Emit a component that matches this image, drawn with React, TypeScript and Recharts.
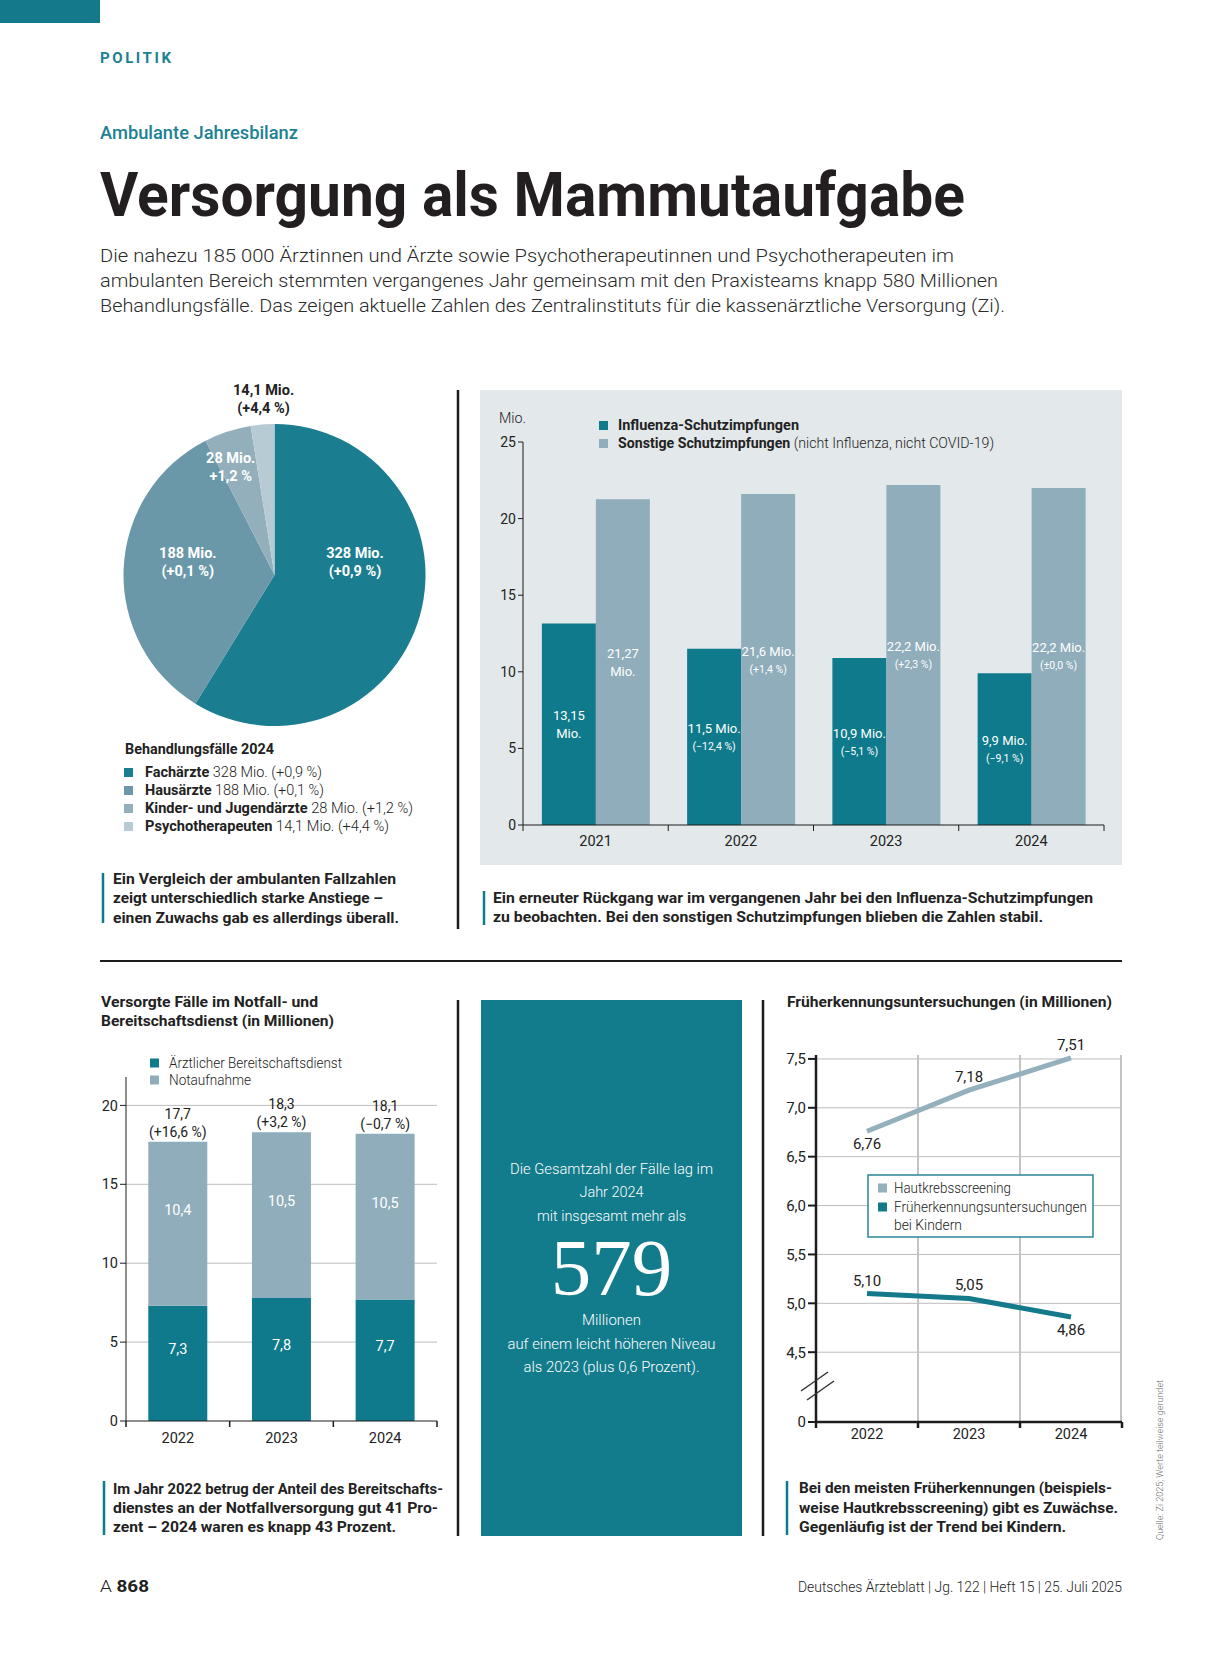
import React from "react";
import { Bar, BarChart, CartesianGrid, Cell, LabelList, Line, LineChart, Pie, PieChart, XAxis, YAxis } from "recharts";

const FONT = 'Roboto, "Noto Sans", sans-serif';
const SERIF = '"Liberation Serif", "DejaVu Serif", serif';
const INK = "#222222";
const TEAL = "#0f7a8b";
const LIGHT = "#8fadba";
const PANEL = "#e3e8ea";
const AXIS = "#1c1c1c";
const GRID = "#bdbdbd";
const W = 1223;
const H = 1654;

// Behandlungsfälle 2024
const pieNames = ["Fachärzte", "Hausärzte", "Kinder- und Jugendärzte", "Psychotherapeuten"];
const pieValues = [328, 188, 28, 14.1];
const pieLabelTop = ["328 Mio.", "188 Mio.", "28 Mio.", "14,1 Mio."];
const pieLabelSub = ["(+0,9 %)", "(+0,1 %)", "+1,2 %", "(+4,4 %)"];
const pieLegendText = ["328 Mio. (+0,9 %)", "188 Mio. (+0,1 %)", "28 Mio. (+1,2 %)", "14,1 Mio. (+4,4 %)"];
const pieColors = ["#1b7d90", "#6a98a8", "#93afbc", "#b7cbd4"];

// Schutzimpfungen
const vacYears = ["2021", "2022", "2023", "2024"];
const influenza = [13.15, 11.5, 10.9, 9.9];
const sonstige = [21.27, 21.6, 22.2, 22.0];
const influenzaTop = ["13,15", "11,5 Mio.", "10,9 Mio.", "9,9 Mio."];
const influenzaSub = ["Mio.", "(−12,4 %)", "(−5,1 %)", "(−9,1 %)"];
const sonstigeTop = ["21,27", "21,6 Mio.", "22,2 Mio.", "22,2 Mio."];
const sonstigeSub = ["Mio.", "(+1,4 %)", "(+2,3 %)", "(±0,0 %)"];
const vacTicks = [0, 5, 10, 15, 20, 25];

// Notfall- und Bereitschaftsdienst
const notYears = ["2022", "2023", "2024"];
const bereitschaft = [7.3, 7.8, 7.7];
const notaufnahme = [10.4, 10.5, 10.5];
const notTotal = ["17,7", "18,3", "18,1"];
const notChange = ["(+16,6 %)", "(+3,2 %)", "(−0,7 %)"];
const notTicks = [0, 5, 10, 15, 20];

// Früherkennungsuntersuchungen
const fruehYears = ["2022", "2023", "2024"];
const hautkrebs = [6.76, 7.18, 7.51];
const kinder = [5.1, 5.05, 4.86];
const fruehTicks = [4.5, 5, 5.5, 6, 6.5, 7, 7.5];
const FRUEH_FLOOR = 3.786; // axis break, shown as "0"

const pieData = pieNames.map((name, i) => ({ name, value: pieValues[i] }));
const vacData = vacYears.map((year, i) => ({ year, influenza: influenza[i], sonstige: sonstige[i] }));
const notData = notYears.map((year, i) => ({ year, bereitschaft: bereitschaft[i], notaufnahme: notaufnahme[i] }));
const fruehData = fruehYears.map((year, i) => ({ year, hautkrebs: hautkrebs[i], kinder: kinder[i] }));

const comma = (v: number, d: number) => v.toFixed(d).replace(".", ",");

// label placement tweaks (relative to slice mid angle)
const pieLabelTweak = [
  { da: 25, r: 0.54 },
  { da: -6, r: 0.58 },
  { da: 4, r: 0.77 },
  { da: -1, r: 1.17 },
];

function renderPieLabel(props: any) {
  const { cx, cy, midAngle, outerRadius, index } = props;
  const t = pieLabelTweak[index];
  const a = ((midAngle + t.da) * Math.PI) / 180;
  const x = cx + outerRadius * t.r * Math.cos(a);
  const y = cy - outerRadius * t.r * Math.sin(a);
  return (
    <text textAnchor="middle" fill={index === 3 ? INK : "#fff"} fontSize={14.5} fontWeight={700} fontFamily={FONT}>
      <tspan x={x} y={y - 4}>{pieLabelTop[index]}</tspan>
      <tspan x={x} y={y + 14}>{pieLabelSub[index]}</tspan>
    </text>
  );
}

function box(props: any) {
  const vb = props.viewBox && props.viewBox.x !== undefined ? props.viewBox : props;
  return { x: vb.x, y: vb.y, w: vb.width || 0, h: vb.height || 0, i: props.index ?? 0 };
}

const vacLabel = (top: string[], sub: string[]) => (props: any) => {
  const { x, y, w, h, i } = box(props);
  const cx = x + w / 2;
  const cy = y + h / 2;
  const same = sub[i] === "Mio.";
  return (
    <g>
      <text x={cx} y={cy - 4} textAnchor="middle" fill="#fff" fontSize={13} fontFamily={FONT}>{top[i]}</text>
      <text x={cx} y={cy + (same ? 14 : 13)} textAnchor="middle" fill="#fff" fontSize={same ? 13 : 10.5} fontFamily={FONT}>{sub[i]}</text>
    </g>
  );
};

const innerLabel = (values: number[]) => (props: any) => {
  const { x, y, w, h, i } = box(props);
  return (
    <text x={x + w / 2} y={y + h / 2 - 9} textAnchor="middle" fill="#fff" fontSize={14.5} fontFamily={FONT}>
      {comma(values[i], 1)}
    </text>
  );
};

const totalLabel = (props: any) => {
  const { x, y, w, i } = box(props);
  return (
    <g>
      <text x={x + w / 2} y={y - 23} textAnchor="middle" fill={INK} fontSize={14} fontFamily={FONT}>{notTotal[i]}</text>
      <text x={x + w / 2} y={y - 5} textAnchor="middle" fill={INK} fontSize={14} fontFamily={FONT}>{notChange[i]}</text>
    </g>
  );
};

const hautPlace = ["below", "above", "above"];
const kinderPlace = ["above", "above", "below"];
const pointLabel = (values: number[], place: string[]) => (props: any) => {
  const { x, y, i } = box(props);
  const dy = place[i] === "above" ? -8 : 18;
  return (
    <text x={x} y={y + dy} textAnchor="middle" fill={INK} fontSize={15} fontFamily={FONT}>
      {comma(values[i], 2)}
    </text>
  );
};

const bandTick = (band: number, count: number, width: number, dy: number) => (props: any) => {
  const { x, y, payload, index } = props;
  return (
    <g>
      <line x1={x - band / 2} x2={x - band / 2} y1={y} y2={y + 6} stroke={AXIS} strokeWidth={width} />
      {index === count - 1 && <line x1={x + band / 2} x2={x + band / 2} y1={y} y2={y + 6} stroke={AXIS} strokeWidth={width} />}
      <text x={x} y={y + dy} textAnchor="middle" fill={INK} fontSize={14.5} fontFamily={FONT}>{payload.value}</text>
    </g>
  );
};

const tickStyle = { fontSize: 14.5, fill: INK, fontFamily: FONT };

function T({ x, y, size = 15, weight = 400, fill = INK, len, anchor = "start", family = FONT, children }: any) {
  return (
    <text x={x} y={y} fontSize={size} fontWeight={weight} fill={fill} fontFamily={family} textAnchor={anchor}
      textLength={len} lengthAdjust={len ? "spacingAndGlyphs" : undefined}>
      {children}
    </text>
  );
}

const introLines = [
  "Die nahezu 185 000 Ärztinnen und Ärzte sowie Psychotherapeutinnen und Psychotherapeuten im",
  "ambulanten Bereich stemmten vergangenes Jahr gemeinsam mit den Praxisteams knapp 580 Millionen",
  "Behandlungsfälle. Das zeigen aktuelle Zahlen des Zentralinstituts für die kassenärztliche Versorgung (Zi).",
];
const introLen = [854, 898, 905];

export default function App() {
  return (
    <div style={{ position: "absolute", left: 0, top: 0, width: W, height: H, background: "#fff", overflow: "hidden", fontFamily: FONT }}>
      <div style={{ position: "absolute", left: 480, top: 390, width: 642, height: 475, background: PANEL }} />
      <div style={{ position: "absolute", left: 481, top: 1000, width: 261, height: 536, background: "#127b8c" }} />

      {/* Pie */}
      <div style={{ position: "absolute", left: 100, top: 360 }}>
        <PieChart width={340} height={380}>
          <Pie data={pieData} dataKey="value" nameKey="name" cx={169.5} cy={210} outerRadius={151} startAngle={90} endAngle={-270}
            stroke="none" label={renderPieLabel} labelLine={false} isAnimationActive={false}>
            {pieData.map((d, i) => <Cell key={d.name} fill={pieColors[i]} />)}
          </Pie>
        </PieChart>
      </div>

      {/* Schutzimpfungen */}
      <div style={{ position: "absolute", left: 480, top: 390 }}>
        <BarChart width={642} height={475} data={vacData} margin={{ top: 52, right: 18, left: 13, bottom: 10 }} barCategoryGap="13%" barGap={0}>
          <YAxis width={30} domain={[0, 25]} ticks={vacTicks} interval={0} axisLine={{ stroke: AXIS }} tickLine={{ stroke: AXIS }} tickSize={5} tick={{ ...tickStyle, fontSize: 14 }} />
          <XAxis dataKey="year" height={30} axisLine={{ stroke: AXIS }} tickLine={false} tickSize={0} tickMargin={0} interval={0} tick={bandTick(581 / 4, 4, 1, 21)} />
          <Bar dataKey="influenza" fill={TEAL} isAnimationActive={false}>
            <LabelList dataKey="influenza" content={vacLabel(influenzaTop, influenzaSub)} />
          </Bar>
          <Bar dataKey="sonstige" fill={LIGHT} isAnimationActive={false}>
            <LabelList dataKey="sonstige" content={vacLabel(sonstigeTop, sonstigeSub)} />
          </Bar>
        </BarChart>
      </div>

      {/* Notfall */}
      <div style={{ position: "absolute", left: 90, top: 1060 }}>
        <BarChart width={360} height={400} data={notData} margin={{ top: 17, right: 13, left: 6, bottom: 9 }} barCategoryGap="21.5%">
          <CartesianGrid vertical={false} stroke={GRID} horizontalValues={notTicks.slice(1)} />
          <YAxis width={30} domain={[0, 21.8]} ticks={notTicks} interval={0} axisLine={{ stroke: AXIS }} tickLine={{ stroke: AXIS }} tickSize={6} tick={tickStyle} />
          <XAxis dataKey="year" height={30} axisLine={{ stroke: AXIS }} tickLine={false} tickSize={0} tickMargin={0} interval={0} tick={bandTick(311 / 3, 3, 1.5, 22)} />
          <Bar dataKey="bereitschaft" stackId="a" fill={TEAL} isAnimationActive={false}>
            <LabelList dataKey="bereitschaft" content={innerLabel(bereitschaft)} />
          </Bar>
          <Bar dataKey="notaufnahme" stackId="a" fill={LIGHT} isAnimationActive={false}>
            <LabelList dataKey="notaufnahme" content={innerLabel(notaufnahme)} />
            <LabelList dataKey="notaufnahme" content={totalLabel} />
          </Bar>
        </BarChart>
      </div>

      {/* Früherkennung */}
      <div style={{ position: "absolute", left: 766, top: 1035 }}>
        <LineChart width={370} height={420} data={fruehData} margin={{ top: 20, right: 14, left: 14, bottom: 5 }}>
          <CartesianGrid vertical={false} stroke={GRID} horizontalValues={fruehTicks} />
          <CartesianGrid horizontal={false} stroke="#c4c4c4" strokeWidth={2}
            verticalCoordinatesGenerator={({ offset }: any) => [offset.left + offset.width / 3, offset.left + (2 * offset.width) / 3, offset.left + offset.width - 1]} />
          <YAxis width={36} domain={[FRUEH_FLOOR, 7.54]} ticks={[FRUEH_FLOOR, ...fruehTicks]} interval={0} allowDataOverflow
            axisLine={{ stroke: AXIS, strokeWidth: 2.5 }} tickLine={{ stroke: AXIS, strokeWidth: 2 }} tickSize={8} tick={{ ...tickStyle, fontSize: 15 }}
            tickFormatter={(v: number) => (v < 4 ? "0" : comma(v, 1))} />
          <XAxis dataKey="year" height={28} padding={{ left: 51, right: 51 }} axisLine={{ stroke: AXIS, strokeWidth: 2.5 }} tickLine={false} tickSize={0} tickMargin={0} interval={0}
            tick={bandTick(102, 3, 2.5, 17)} />
          <Line dataKey="hautkrebs" stroke="#93b0bc" strokeWidth={5} dot={false} isAnimationActive={false}>
            <LabelList dataKey="hautkrebs" content={pointLabel(hautkrebs, hautPlace)} />
          </Line>
          <Line dataKey="kinder" stroke="#13798b" strokeWidth={5} dot={false} isAnimationActive={false}>
            <LabelList dataKey="kinder" content={pointLabel(kinder, kinderPlace)} />
          </Line>
        </LineChart>
      </div>

      {/* text and rules */}
      <svg width={W} height={H} style={{ position: "absolute", left: 0, top: 0, pointerEvents: "none" }}>
        <rect x={0} y={0} width={100} height={23} fill="#13798b" />
        <text x={100} y={63} fontSize={15} fontWeight={700} fill="#1c8193" fontFamily={FONT} letterSpacing={3} textLength={74} lengthAdjust="spacing">POLITIK</text>
        <T x={100} y={139} size={19} weight={500} fill="#1c8193" len={198}>Ambulante Jahresbilanz</T>
        <T x={100} y={216} size={62} weight={700} fill="#231f20" len={865}>Versorgung als Mammutaufgabe</T>
        {introLines.map((t, i) => (
          <T key={i} x={100} y={262 + 25 * i} size={19} weight={300} fill="#2a2a2a" len={introLen[i]}>{t}</T>
        ))}

        {/* rules */}
        <line x1={458} x2={458} y1={390} y2={929} stroke={AXIS} strokeWidth={2.5} />
        <line x1={100} x2={1122} y1={961} y2={961} stroke={AXIS} strokeWidth={2} />
        <line x1={458} x2={458} y1={1000} y2={1536} stroke={AXIS} strokeWidth={2.5} />
        <line x1={763} x2={763} y1={1000} y2={1536} stroke={AXIS} strokeWidth={2.5} />
        <line x1={103} x2={103} y1={873} y2={923} stroke={TEAL} strokeWidth={2.5} />
        <line x1={484} x2={484} y1={891} y2={925} stroke={TEAL} strokeWidth={2.5} />
        <line x1={104} x2={104} y1={1481} y2={1535} stroke={TEAL} strokeWidth={2.5} />
        <line x1={787} x2={787} y1={1481} y2={1535} stroke={TEAL} strokeWidth={2.5} />

        {/* pie legend + caption */}
        <T x={125} y={754} size={14.5} weight={700} len={149}>Behandlungsfälle 2024</T>
        {pieNames.map((n, i) => (
          <g key={n}>
            <rect x={124} y={768 + 18 * i} width={9} height={9} fill={pieColors[i]} />
            <text x={145} y={777 + 18 * i} fontSize={14.5} fill={INK} fontFamily={FONT} textLength={[177, 179, 268, 244][i]} lengthAdjust="spacingAndGlyphs">
              <tspan fontWeight={700}>{n}</tspan>
              <tspan fontWeight={300}> {pieLegendText[i]}</tspan>
            </text>
          </g>
        ))}
        <T x={113} y={884} size={15.5} weight={700} len={283}>Ein Vergleich der ambulanten Fallzahlen</T>
        <T x={113} y={903} size={15.5} weight={700} len={270}>zeigt unterschiedlich starke Anstiege –</T>
        <T x={113} y={923} size={15.5} weight={700} len={286}>einen Zuwachs gab es allerdings überall.</T>

        {/* vaccination legend + caption */}
        <T x={499} y={423} size={14} weight={300} len={27}>Mio.</T>
        <rect x={599} y={421} width={9} height={9} fill={TEAL} />
        <rect x={599} y={439} width={9} height={9} fill={LIGHT} />
        <T x={618} y={430} size={15} weight={700} len={181}>Influenza-Schutzimpfungen</T>
        <text x={618} y={448} fontSize={15} fill={INK} fontFamily={FONT} textLength={376} lengthAdjust="spacingAndGlyphs">
          <tspan fontWeight={700}>Sonstige Schutzimpfungen</tspan>
          <tspan fontWeight={300}> (nicht Influenza, nicht COVID-19)</tspan>
        </text>
        <T x={493} y={903} size={15.5} weight={700} len={600}>Ein erneuter Rückgang war im vergangenen Jahr bei den Influenza-Schutzimpfungen</T>
        <T x={493} y={922} size={15.5} weight={700} len={550}>zu beobachten. Bei den sonstigen Schutzimpfungen blieben die Zahlen stabil.</T>

        {/* Notfall title, legend, caption */}
        <T x={101} y={1007} size={15} weight={700} len={217}>Versorgte Fälle im Notfall- und</T>
        <T x={101} y={1026} size={15} weight={700} len={233}>Bereitschaftsdienst (in Millionen)</T>
        <rect x={150} y={1058.5} width={9} height={9} fill={TEAL} />
        <rect x={150} y={1075.5} width={9} height={9} fill={LIGHT} />
        <T x={169} y={1068} size={15} weight={300} len={173}>Ärztlicher Bereitschaftsdienst</T>
        <T x={169} y={1085} size={15} weight={300} len={82}>Notaufnahme</T>
        <T x={113} y={1494} size={15.5} weight={700} len={330}>Im Jahr 2022 betrug der Anteil des Bereitschafts-</T>
        <T x={113} y={1513} size={15.5} weight={700} len={325}>dienstes an der Notfallversorgung gut 41 Pro-</T>
        <T x={113} y={1532} size={15.5} weight={700} len={283}>zent – 2024 waren es knapp 43 Prozent.</T>

        {/* highlight box */}
        <T x={611.5} y={1174} size={15.5} weight={300} fill="#fff" anchor="middle" len={203}>Die Gesamtzahl der Fälle lag im</T>
        <T x={611.5} y={1197} size={15.5} weight={300} fill="#fff" anchor="middle" len={64}>Jahr 2024</T>
        <T x={611.5} y={1221} size={15.5} weight={300} fill="#fff" anchor="middle" len={149}>mit insgesamt mehr als</T>
        <T x={611.5} y={1295} size={81} weight={400} fill="#fff" anchor="middle" family={SERIF}>579</T>
        <T x={611.5} y={1325} size={15.5} weight={300} fill="#fff" anchor="middle" len={59}>Millionen</T>
        <T x={611.5} y={1349} size={15.5} weight={300} fill="#fff" anchor="middle" len={208}>auf einem leicht höheren Niveau</T>
        <T x={611.5} y={1372} size={15.5} weight={300} fill="#fff" anchor="middle" len={176}>als 2023 (plus 0,6 Prozent).</T>

        {/* Früherkennung title, legend, caption */}
        <T x={787} y={1007} size={15} weight={700} len={325}>Früherkennungsuntersuchungen (in Millionen)</T>
        <rect x={868} y={1175} width={225} height={62} fill="#fff" stroke="#2a8797" strokeWidth={1.5} />
        <rect x={878} y={1183.5} width={9} height={9} fill="#93b0bc" />
        <rect x={878} y={1202.5} width={9} height={9} fill="#13798b" />
        <T x={894} y={1193} size={15} weight={300} len={117}>Hautkrebsscreening</T>
        <T x={894} y={1212} size={15} weight={300} len={193}>Früherkennungsuntersuchungen</T>
        <T x={894} y={1230} size={15} weight={300} len={68}>bei Kindern</T>
        <line x1={801} y1={1391} x2={828} y2={1372} stroke="#333" strokeWidth={1.5} />
        <line x1={807} y1={1400} x2={834} y2={1381} stroke="#333" strokeWidth={1.5} />
        <T x={799} y={1493} size={15.5} weight={700} len={313}>Bei den meisten Früherkennungen (beispiels-</T>
        <T x={799} y={1513} size={15.5} weight={700} len={319}>weise Hautkrebsscreening) gibt es Zuwächse.</T>
        <T x={799} y={1532} size={15.5} weight={700} len={267}>Gegenläufig ist der Trend bei Kindern.</T>

        {/* footer */}
        <text x={100} y={1592} fontSize={17} fill={INK} fontFamily={FONT} textLength={49} lengthAdjust="spacingAndGlyphs">
          <tspan fontWeight={300}>A </tspan>
          <tspan fontWeight={700}>868</tspan>
        </text>
        <T x={1122} y={1592} size={15} weight={300} anchor="end" len={324}>Deutsches Ärzteblatt | Jg. 122 | Heft 15 | 25. Juli 2025</T>
        <text transform="translate(1163,1540) rotate(-90)" fontSize={9.5} fontWeight={300} fill="#666" fontFamily={FONT} textLength={160} lengthAdjust="spacingAndGlyphs">
          Quelle: Zi 2025; Werte teilweise gerundet
        </text>
      </svg>
    </div>
  );
}
